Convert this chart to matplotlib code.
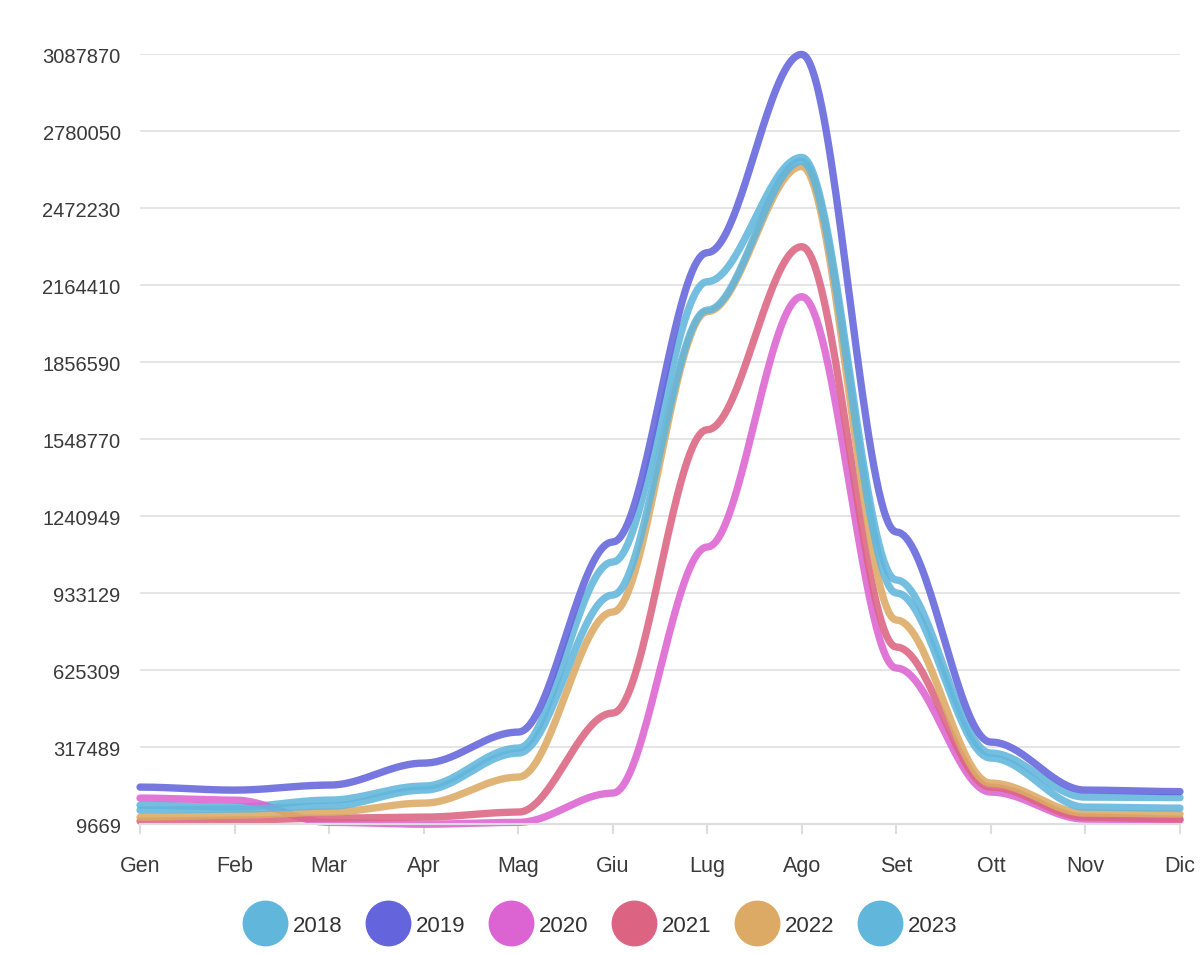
import numpy as np
import matplotlib.pyplot as plt
from matplotlib.lines import Line2D

plt.rcParams['font.family'] = ['Liberation Sans', 'DejaVu Sans']

months = ['Gen', 'Feb', 'Mar', 'Apr', 'Mag', 'Giu', 'Lug', 'Ago', 'Set', 'Ott', 'Nov', 'Dic']
years = ['2018', '2019', '2020', '2021', '2022', '2023']
colors = ['#61b6dc', '#6464dc', '#dc64d2', '#dc6482', '#dcaa64', '#61b6dc']

v2018 = [86000, 78000, 106000, 162000, 314000, 1058000, 2179000, 2676000, 986000, 294000, 118000, 116000]
v2019 = [158000, 146000, 166000, 254000, 378000, 1138000, 2295000, 3087870, 1178000, 338000, 146000, 140000]
v2020 = [114000, 106000, 17000, 9669, 17000, 134000, 1118000, 2119000, 634000, 138000, 30000, 26000]
v2021 = [22000, 26000, 34000, 38000, 58000, 454000, 1587000, 2319000, 718000, 158000, 38000, 30000]
v2022 = [38000, 46000, 58000, 94000, 198000, 858000, 2059000, 2640000, 826000, 174000, 54000, 50000]
v2023 = [66000, 70000, 82000, 146000, 294000, 926000, 2065000, 2660000, 934000, 274000, 78000, 74000]
series = [v2018, v2019, v2020, v2021, v2022, v2023]

yticks = [9669, 317489, 625309, 933129, 1240949, 1548770, 1856590, 2164410, 2472230, 2780050, 3087870]


def smooth(xs, ys, k=0.35, n=40):
    # cubic segments with flat tangents at every point
    t = np.linspace(0, 1, n)
    px, py = [], []
    for i in range(len(xs) - 1):
        x1, x2, y1, y2 = xs[i], xs[i + 1], ys[i], ys[i + 1]
        dx = x2 - x1
        cx = [x1, x1 + k * dx, x2 - k * dx, x2]
        cy = [y1, y1, y2, y2]
        b = [(1 - t) ** 3, 3 * (1 - t) ** 2 * t, 3 * (1 - t) * t ** 2, t ** 3]
        sx = sum(bi * c for bi, c in zip(b, cx))
        sy = sum(bi * c for bi, c in zip(b, cy))
        s = 0 if i == 0 else 1
        px.extend(sx[s:])
        py.extend(sy[s:])
    return np.array(px), np.array(py)


fig = plt.figure(figsize=(12, 9.54), dpi=100)
ax = fig.add_axes([0.1167, 0.135, 0.8666, 0.807])

x = np.arange(len(months))
for vals, col, yr in zip(series, colors, years):
    xx, yy = smooth(x, vals)
    ax.plot(xx, yy, color=col, lw=5.3, alpha=0.88, solid_capstyle='round', clip_on=False, label=yr)

ax.set_xlim(0, 11)
ax.set_ylim(yticks[0], yticks[-1])
ax.set_xticks(x)
ax.set_xticklabels(months, fontsize=15.5, color='#3a3a3a')
ax.set_yticks(yticks)
ax.set_yticklabels([str(v) for v in yticks], fontsize=14.5, color='#3a3a3a')
ax.grid(axis='y', color='#e3e3e3', lw=1.3)
ax.set_axisbelow(True)
for s in ['top', 'right', 'left']:
    ax.spines[s].set_visible(False)
ax.spines['bottom'].set_color('#dddddd')
ax.spines['bottom'].set_linewidth(1.5)
ax.tick_params(axis='x', length=7.2, color='#dddddd', width=1.5, pad=15)
ax.tick_params(axis='y', length=0, pad=14)

handles = [Line2D([], [], ls='none', marker='o', markersize=32, markerfacecolor=c,
                  markeredgecolor=c, label=y) for c, y in zip(colors, years)]
fig.legend(handles=handles, loc='center', bbox_to_anchor=(0.5, 0.029), ncol=6, frameon=False,
           fontsize=16, handletextpad=0.25, columnspacing=1.05, handlelength=2.0,
           labelcolor='#333333')

fig.savefig('out.png', dpi=100)
